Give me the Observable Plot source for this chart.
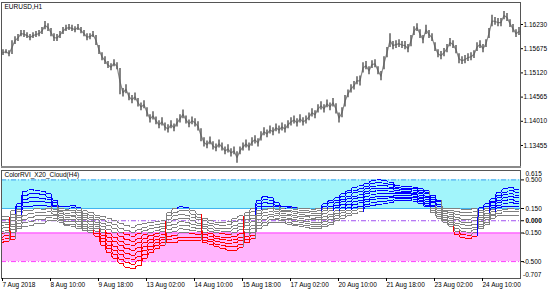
<!DOCTYPE html>
<html><head><meta charset="utf-8">
<script src="https://cdn.jsdelivr.net/npm/d3@7"></script>
<script src="https://cdn.jsdelivr.net/npm/@observablehq/plot@0.6"></script>
<style>
body{margin:0;background:#fff;}
#chart{position:relative;width:560px;height:294px;background:#fff;overflow:hidden;}
#top,#bottom{position:absolute;left:0;}
#top{top:0;} #bottom{top:168px;}
#sep{position:absolute;left:1px;width:520px;top:166px;height:3px;background:#8a8a8a;}
svg{display:block}
</style></head><body>
<div id="chart"><div id="top"></div><div id="sep"></div><div id="bottom"></div></div>
<script>
// ---- price panel data (EURUSD H1, one entry per pair of hourly bars) ----
const priceHigh = [
1.1565,1.1565,1.1563,1.1586,1.1595,1.1600,1.1609,1.1609,1.1604,1.1600,
1.1604,1.1607,1.1609,1.1616,1.1630,1.1625,1.1614,1.1602,1.1600,1.1607,
1.1616,1.1621,1.1623,1.1621,1.1618,1.1623,1.1616,1.1609,1.1602,1.1602,
1.1607,1.1598,1.1575,1.1558,1.1549,1.1538,1.1533,1.1542,1.1535,1.1522,
1.1476,1.1485,1.1466,1.1460,1.1466,1.1453,1.1443,1.1448,1.1432,1.1416,
1.1423,1.1411,1.1402,1.1409,1.1397,1.1393,1.1402,1.1395,1.1407,1.1416,
1.1427,1.1413,1.1404,1.1411,1.1407,1.1400,1.1384,1.1363,1.1356,1.1365,
1.1354,1.1349,1.1358,1.1351,1.1342,1.1347,1.1338,1.1342,1.1331,1.1342,
1.1351,1.1358,1.1351,1.1363,1.1368,1.1361,1.1377,1.1386,1.1381,1.1390,
1.1386,1.1395,1.1390,1.1397,1.1393,1.1402,1.1409,1.1413,1.1407,1.1416,
1.1409,1.1413,1.1420,1.1430,1.1425,1.1439,1.1446,1.1439,1.1450,1.1443,
1.1453,1.1441,1.1420,1.1432,1.1460,1.1473,1.1485,1.1492,1.1503,1.1505,
1.1535,1.1538,1.1526,1.1540,1.1542,1.1526,1.1515,1.1549,1.1570,1.1602,
1.1584,1.1586,1.1588,1.1584,1.1584,1.1577,1.1598,1.1618,1.1625,1.1611,
1.1598,1.1621,1.1609,1.1602,1.1581,1.1565,1.1561,1.1568,1.1577,1.1591,
1.1586,1.1575,1.1556,1.1549,1.1552,1.1556,1.1558,1.1563,1.1581,1.1586,
1.1577,1.1588,1.1614,1.1644,1.1639,1.1637,1.1637,1.1653,1.1648,1.1634,
1.1623,1.1611,1.1616];
const priceLow = [
1.1552,1.1556,1.1549,1.1554,1.1577,1.1584,1.1595,1.1593,1.1591,1.1586,
1.1591,1.1593,1.1595,1.1600,1.1611,1.1607,1.1595,1.1584,1.1584,1.1591,
1.1600,1.1607,1.1609,1.1607,1.1604,1.1609,1.1602,1.1595,1.1586,1.1588,
1.1593,1.1575,1.1554,1.1540,1.1531,1.1522,1.1517,1.1526,1.1519,1.1462,
1.1457,1.1464,1.1448,1.1441,1.1448,1.1434,1.1425,1.1430,1.1411,1.1397,
1.1404,1.1393,1.1384,1.1390,1.1379,1.1374,1.1384,1.1377,1.1388,1.1397,
1.1407,1.1395,1.1386,1.1393,1.1388,1.1379,1.1354,1.1342,1.1338,1.1347,
1.1335,1.1331,1.1340,1.1333,1.1324,1.1328,1.1319,1.1324,1.1305,1.1324,
1.1333,1.1340,1.1333,1.1344,1.1349,1.1342,1.1356,1.1368,1.1363,1.1372,
1.1368,1.1377,1.1372,1.1379,1.1374,1.1384,1.1390,1.1395,1.1388,1.1397,
1.1390,1.1395,1.1402,1.1411,1.1407,1.1420,1.1427,1.1420,1.1432,1.1425,
1.1434,1.1418,1.1397,1.1409,1.1434,1.1455,1.1466,1.1473,1.1485,1.1482,
1.1512,1.1519,1.1508,1.1522,1.1524,1.1508,1.1494,1.1519,1.1547,1.1570,
1.1565,1.1568,1.1570,1.1568,1.1565,1.1558,1.1572,1.1598,1.1607,1.1591,
1.1579,1.1600,1.1591,1.1584,1.1561,1.1547,1.1542,1.1549,1.1558,1.1572,
1.1568,1.1556,1.1533,1.1531,1.1533,1.1538,1.1540,1.1545,1.1561,1.1568,
1.1558,1.1570,1.1591,1.1618,1.1621,1.1618,1.1618,1.1634,1.1630,1.1616,
1.1604,1.1593,1.1598];
const priceTicks = [1.16230, 1.15675, 1.15120, 1.14565, 1.14010, 1.13455];

// ---- time axis (hourly bar index -> label) ----
const timeTickBars = [0, 32, 64, 96, 128, 160, 192, 224, 256, 288, 320];
const timeTickLabels = ["7 Aug 2018","8 Aug 10:00","9 Aug 18:00","13 Aug 02:00","14 Aug 10:00","15 Aug 18:00","17 Aug 02:00","20 Aug 10:00","21 Aug 18:00","23 Aug 02:00","24 Aug 10:00"];

// ---- indicator levels ----
const levels = [0.5, 0.15, 0, -0.15, -0.5];
const scaleMax = [0.615];
const scaleMin = [-0.707];

// ---- ColorRVI_X20_Cloud lines (one value per H4 step) ----
const line01 = [
-0.27,-0.25,0.12,0.21,0.36,0.38,0.37,0.36,0.33,0.25,
0.17,0.17,0.19,0.16,-0.12,-0.15,-0.19,-0.30,-0.39,-0.46,
-0.52,-0.57,-0.585,-0.55,-0.46,-0.39,-0.34,-0.30,0.10,0.15,
0.17,0.16,0.12,0.08,-0.27,-0.29,-0.32,-0.34,-0.36,-0.36,
-0.33,0.10,0.15,0.25,0.30,0.28,0.22,0.17,0.18,0.16,
0.15,0.15,0.14,0.15,0.21,0.25,0.28,0.33,0.37,0.41,
0.43,0.46,0.49,0.50,0.49,0.47,0.43,0.42,0.42,0.41,
0.39,0.37,0.10,0.03,-0.02,-0.07,-0.17,-0.21,-0.22,-0.19,
0.16,0.21,0.27,0.35,0.39,0.41,0.38];
const line02 = [
-0.23,-0.22,0.08,0.18,0.31,0.33,0.33,0.32,0.29,0.22,
0.15,0.14,0.16,0.13,-0.09,-0.12,-0.16,-0.26,-0.34,-0.41,
-0.47,-0.51,-0.53,-0.49,-0.41,-0.35,-0.30,-0.27,0.06,0.10,
0.12,0.12,0.08,0.04,-0.24,-0.26,-0.29,-0.30,-0.32,-0.32,
-0.29,0.06,0.11,0.21,0.26,0.25,0.19,0.15,0.16,0.14,
0.13,0.12,0.11,0.12,0.18,0.22,0.25,0.30,0.34,0.37,
0.39,0.42,0.46,0.47,0.46,0.44,0.41,0.40,0.40,0.39,
0.37,0.35,0.12,0.05,0.00,-0.05,-0.13,-0.17,-0.18,-0.15,
0.13,0.18,0.24,0.31,0.35,0.37,0.35];
const line03 = [
-0.20,-0.18,0.04,0.14,0.26,0.28,0.28,0.27,0.26,0.19,
0.13,0.12,0.13,0.10,-0.07,-0.09,-0.13,-0.22,-0.30,-0.36,
-0.41,-0.46,-0.47,-0.44,-0.36,-0.31,-0.27,-0.23,0.02,0.06,
0.08,0.07,0.04,0.01,-0.20,-0.23,-0.25,-0.27,-0.28,-0.27,
-0.24,0.02,0.07,0.17,0.22,0.21,0.17,0.13,0.13,0.11,
0.10,0.10,0.09,0.09,0.15,0.18,0.22,0.26,0.30,0.34,
0.36,0.39,0.42,0.43,0.43,0.41,0.39,0.38,0.38,0.37,
0.35,0.33,0.15,0.08,0.02,-0.02,-0.10,-0.13,-0.14,-0.11,
0.10,0.15,0.22,0.28,0.32,0.33,0.31];
const line04 = [
-0.16,-0.15,0.00,0.11,0.22,0.23,0.24,0.23,0.22,0.17,
0.11,0.09,0.10,0.07,-0.04,-0.07,-0.10,-0.18,-0.25,-0.31,
-0.36,-0.40,-0.42,-0.38,-0.32,-0.27,-0.23,-0.20,-0.02,0.01,
0.03,0.03,0.00,-0.03,-0.17,-0.19,-0.22,-0.23,-0.24,-0.23,
-0.20,-0.02,0.03,0.13,0.18,0.18,0.14,0.11,0.11,0.09,
0.08,0.07,0.06,0.07,0.12,0.15,0.19,0.23,0.27,0.30,
0.32,0.36,0.39,0.40,0.40,0.39,0.37,0.36,0.36,0.35,
0.33,0.30,0.17,0.10,0.04,0.00,-0.06,-0.09,-0.10,-0.08,
0.07,0.12,0.19,0.25,0.28,0.30,0.28];
const line05 = [
-0.13,-0.12,-0.04,0.07,0.17,0.18,0.19,0.19,0.18,0.14,
0.09,0.07,0.07,0.04,-0.01,-0.04,-0.07,-0.14,-0.20,-0.26,
-0.30,-0.34,-0.36,-0.33,-0.27,-0.23,-0.19,-0.17,-0.06,-0.04,
-0.01,-0.02,-0.04,-0.06,-0.14,-0.16,-0.19,-0.20,-0.20,-0.19,
-0.16,-0.06,-0.01,0.09,0.14,0.15,0.11,0.09,0.08,0.06,
0.05,0.05,0.03,0.04,0.09,0.12,0.16,0.20,0.23,0.27,
0.29,0.33,0.36,0.37,0.37,0.36,0.35,0.34,0.34,0.33,
0.31,0.28,0.19,0.13,0.06,0.03,-0.03,-0.05,-0.06,-0.04,
0.04,0.09,0.16,0.22,0.25,0.26,0.24];
const line06 = [
-0.09,-0.08,-0.07,0.04,0.12,0.13,0.15,0.14,0.15,0.11,
0.06,0.04,0.05,0.02,0.01,-0.01,-0.05,-0.11,-0.16,-0.20,
-0.25,-0.29,-0.30,-0.27,-0.22,-0.18,-0.16,-0.13,-0.11,-0.08,
-0.06,-0.06,-0.08,-0.10,-0.10,-0.13,-0.15,-0.16,-0.17,-0.14,
-0.11,-0.11,-0.06,0.06,0.10,0.11,0.09,0.06,0.06,0.04,
0.03,0.02,0.01,0.01,0.05,0.08,0.12,0.16,0.20,0.23,
0.25,0.30,0.32,0.33,0.33,0.33,0.33,0.33,0.33,0.32,
0.29,0.26,0.22,0.15,0.07,0.05,0.01,-0.02,-0.02,0.00,
0.02,0.07,0.14,0.19,0.21,0.22,0.21];
const line07 = [
-0.06,-0.05,-0.11,0.00,0.07,0.09,0.10,0.10,0.11,0.08,
0.04,0.01,0.02,-0.01,0.04,0.02,-0.02,-0.07,-0.11,-0.15,
-0.19,-0.23,-0.25,-0.22,-0.17,-0.14,-0.12,-0.10,-0.15,-0.13,
-0.10,-0.11,-0.12,-0.13,-0.07,-0.10,-0.12,-0.13,-0.13,-0.10,
-0.07,-0.15,-0.10,0.02,0.06,0.08,0.06,0.04,0.03,0.01,
0.00,-0.01,-0.02,-0.02,0.02,0.05,0.09,0.13,0.16,0.20,
0.22,0.26,0.29,0.30,0.30,0.30,0.31,0.31,0.31,0.30,
0.27,0.24,0.24,0.18,0.09,0.08,0.04,0.02,0.02,0.04,
-0.01,0.04,0.11,0.16,0.18,0.18,0.18];
const line08 = [
-0.02,-0.02,-0.15,-0.03,0.02,0.04,0.06,0.06,0.07,0.06,
0.02,-0.01,-0.01,-0.04,0.07,0.04,0.01,-0.03,-0.06,-0.10,
-0.14,-0.17,-0.19,-0.16,-0.12,-0.10,-0.08,-0.07,-0.19,-0.18,
-0.15,-0.15,-0.16,-0.17,-0.04,-0.06,-0.09,-0.09,-0.09,-0.06,
-0.03,-0.19,-0.14,-0.02,0.02,0.05,0.03,0.02,0.01,-0.01,
-0.02,-0.03,-0.05,-0.04,-0.01,0.02,0.06,0.10,0.13,0.16,
0.18,0.23,0.26,0.27,0.27,0.28,0.29,0.29,0.29,0.28,
0.25,0.21,0.26,0.20,0.11,0.10,0.08,0.06,0.06,0.07,
-0.04,0.01,0.08,0.12,0.14,0.15,0.14];
const line09 = [
0.01,0.02,-0.19,-0.07,-0.02,-0.01,0.01,0.01,0.04,0.03,
0.00,-0.04,-0.04,-0.07,0.09,0.07,0.04,0.01,-0.02,-0.05,
-0.09,-0.12,-0.14,-0.11,-0.08,-0.06,-0.05,-0.03,-0.23,-0.22,
-0.20,-0.20,-0.20,-0.20,0.00,-0.03,-0.05,-0.06,-0.05,-0.01,
0.02,-0.23,-0.18,-0.06,-0.02,0.01,0.01,0.00,-0.02,-0.04,
-0.05,-0.06,-0.07,-0.07,-0.04,-0.02,0.03,0.06,0.09,0.13,
0.15,0.20,0.22,0.23,0.24,0.25,0.27,0.27,0.27,0.26,
0.23,0.19,0.29,0.23,0.13,0.13,0.11,0.10,0.10,0.11,
-0.07,-0.02,0.06,0.09,0.11,0.11,0.11];
const line10 = [
0.05,0.05,-0.23,-0.10,-0.07,-0.06,-0.03,-0.03,0.00,0.00,
-0.02,-0.06,-0.07,-0.10,0.12,0.10,0.07,0.05,0.03,0.00,
-0.03,-0.06,-0.08,-0.05,-0.03,-0.02,-0.01,0.00,-0.27,-0.27,
-0.24,-0.24,-0.24,-0.24,0.03,0.00,-0.02,-0.02,-0.01,0.03,
0.06,-0.27,-0.22,-0.10,-0.06,-0.02,-0.02,-0.02,-0.04,-0.06,
-0.07,-0.08,-0.10,-0.10,-0.07,-0.05,0.00,0.03,0.06,0.09,
0.11,0.17,0.19,0.20,0.21,0.22,0.25,0.25,0.25,0.24,
0.21,0.17,0.31,0.25,0.15,0.15,0.15,0.14,0.14,0.15,
-0.10,-0.05,0.03,0.06,0.07,0.07,0.07];

// ---------------- build ----------------
const FONT = "'Liberation Sans', Arial, sans-serif";
const NBARS = 346;
const bars = priceHigh.map((h, i) => ({bar: 2 * i + 1, high: h, low: priceLow[i]}));

const topPlot = Plot.plot({
  width: 560, height: 168,
  marginTop: 2, marginBottom: 2, marginLeft: 1, marginRight: 40,
  style: {fontFamily: FONT, fontSize: "6.5px", background: "#fff", color: "#000"},
  x: {domain: [0, NBARS], axis: null},
  y: {domain: [1.129731, 1.167346], axis: null},
  marks: [
    Plot.line(bars, {x: "bar", y: d => (d.high + d.low) / 2, stroke: "#8a8a8a", strokeWidth: 1.2}),
    Plot.ruleX(bars, {x: "bar", y1: "low", y2: "high", stroke: "#5c5c5c", strokeWidth: 1.5}),
    Plot.axisY({anchor: "right", ticks: priceTicks, tickFormat: d => d.toFixed(5), tickSize: 2, tickPadding: 1, fontSize: 6.5}),
    Plot.frame({stroke: "#555"}),
    Plot.text(["EURUSD,H1"], {frameAnchor: "top-left", dx: 3, dy: 2, textAnchor: "start", lineAnchor: "top", fontSize: 6.5, fill: "#000"})
  ]
});
document.getElementById("top").appendChild(topPlot);

const col = v => v > 0.15 ? "#0000ff" : (v < -0.15 ? "#ff0000" : "#808080");
const allLines = [line01, line02, line03, line04, line05, line06, line07, line08, line09, line10];
const segs = [];
allLines.forEach(vals => {
  vals.forEach((v, k) => {
    const a = Math.max(0, 4 * k - 2), b = Math.min(NBARS, 4 * k + 1);
    segs.push({x1: a, x2: b, y1: v, y2: v, c: col(v)});
    if (k + 1 < vals.length) segs.push({x1: b, x2: b + 1, y1: v, y2: vals[k + 1], c: col(vals[k + 1])});
  });
});
const rank = c => c === "#808080" ? 0 : 1;
segs.sort((p, q) => rank(p.c) - rank(q.c));
const labelOf = new Map(timeTickBars.map((b, i) => [b, timeTickLabels[i]]));

const botPlot = Plot.plot({
  width: 560, height: 126,
  marginTop: 2, marginBottom: 16, marginLeft: 1, marginRight: 40,
  style: {fontFamily: FONT, fontSize: "6.5px", background: "#fff", color: "#000"},
  color: {type: "identity"},
  x: {domain: [0, NBARS], axis: null},
  y: {domain: [scaleMin[0], scaleMax[0]], axis: null},
  marks: [
    Plot.rect([{y1: levels[1], y2: levels[0]}], {x1: 0, x2: NBARS, y1: "y1", y2: "y2", fill: "#a2f5fb"}),
    Plot.rect([{y1: levels[4], y2: levels[3]}], {x1: 0, x2: NBARS, y1: "y1", y2: "y2", fill: "#ffb5fd"}),
    Plot.ruleY([levels[0]], {stroke: "#3d9cf2", strokeDasharray: "5,2,1,2"}),
    Plot.ruleY([levels[1]], {stroke: "#3fb4f0"}),
    Plot.ruleY([levels[2]], {stroke: "#a050f0", strokeDasharray: "5,2,1,2"}),
    Plot.ruleY([levels[3]], {stroke: "#ff40ff"}),
    Plot.ruleY([levels[4]], {stroke: "#ff40ff", strokeDasharray: "5,2,1,2"}),
    Plot.link(segs, {x1: "x1", y1: "y1", x2: "x2", y2: "y2", stroke: "c", strokeWidth: 1, shapeRendering: "crispEdges"}),
    Plot.frame({stroke: "#555"}),
    Plot.axisY({anchor: "right", ticks: levels, tickSize: 3, tickFormat: () => ""}),
    Plot.text(levels.filter(d => d > 0), {x: NBARS, y: d => d, text: d => d.toFixed(3), dx: 5, textAnchor: "start", fontSize: 6.5, fill: "#000"}),
    Plot.text(levels.filter(d => d === 0), {x: NBARS, y: d => d, text: d => d.toFixed(3), dx: 5, textAnchor: "start", fontSize: 6.5, fontWeight: "bold", fill: "#000"}),
    Plot.text(levels.filter(d => d < 0), {x: NBARS, y: d => d, text: d => d.toFixed(3), dx: 2.5, textAnchor: "start", fontSize: 6.5, fill: "#000"}),
    Plot.text(scaleMax, {x: NBARS, y: d => d, text: d => d.toFixed(3), dx: 5, dy: 3.5, textAnchor: "start", fontSize: 6.5, fill: "#000"}),
    Plot.text(scaleMin, {x: NBARS, y: d => d, text: d => d.toFixed(3), dx: 2.5, dy: -4, textAnchor: "start", fontSize: 6.5, fill: "#000"}),
    Plot.axisX({anchor: "bottom", ticks: timeTickBars, tickFormat: d => labelOf.get(d), tickSize: 3, tickPadding: 1, textAnchor: "start", dx: 1, fontSize: 6.5}),
    Plot.text(["ColorRVI_X20_Cloud(H4)"], {frameAnchor: "top-left", dx: 3, dy: 2, textAnchor: "start", lineAnchor: "top", fontSize: 6.5, fill: "#000"})
  ]
});
document.getElementById("bottom").appendChild(botPlot);
</script>
</body></html>
